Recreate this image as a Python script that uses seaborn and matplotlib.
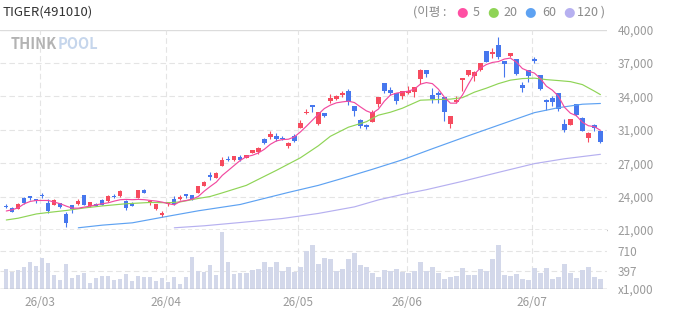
import numpy as np
import pandas as pd
import matplotlib
matplotlib.use("Agg")
import matplotlib.pyplot as plt
import seaborn as sns

# ---------------- data ----------------
title = "TIGER(491010)"
month_labels = ["26/03", "26/04", "26/05", "26/06", "26/07"]
month_pos = [5.6, 26.6, 48.6, 66.8, 87.6]

open_ = [23300, 23110, 23010, 24060, 24180, 23900, 24330, 23550, 23390, 23520,
         22470, 23330, 23490, 24280, 23300, 23490, 23870, 23740, 24230, 24180,
         23740, 23580, 24060, 24750, 23580, 22980, 22440, 23420, 23960, 23900,
         24370, 24280, 24500, 25160, 26210, 25960, 27060, 27700, 27600, 27920,
         27820, 28300, 28430, 29660, 29820, 29880, 29760, 28930, 29880, 30670,
         32070, 32830, 31090, 32100, 33210, 33370, 33780, 34190, 32730, 31400,
         30930, 31240, 32920, 34890, 34250, 33940, 33710, 33970, 34060, 35330,
         36150, 33780, 34000, 33560, 31020, 33140, 35200, 35680, 35610, 36150,
         37990, 37670, 38530, 37040, 37510, 37200, 34730, 36150, 37200, 35680,
         33330, 33520, 33940, 31090, 30960, 32920, 31660, 29760, 30990, 30360]
high = [23420, 23140, 23560, 24090, 24230, 23940, 24470, 23960, 23930, 23560,
        22690, 23380, 23960, 24330, 23660, 23520, 23900, 24310, 24370, 24820,
        23800, 23610, 24800, 24850, 23760, 23470, 22790, 23680, 24180, 24280,
        24420, 24330, 25180, 25610, 26490, 26460, 27920, 27980, 28030, 28110,
        28130, 28580, 28840, 29690, 30360, 30230, 29880, 29310, 30140, 31400,
        32510, 32860, 32190, 32130, 33870, 33750, 34160, 34350, 32760, 31530,
        31090, 32350, 33620, 34920, 34510, 33970, 34190, 34630, 34540, 36220,
        36180, 34470, 34190, 33590, 31810, 33680, 35390, 36180, 36030, 36820,
        38000, 38210, 39320, 37060, 37770, 37230, 35040, 36180, 37360, 35710,
        33370, 33680, 33970, 31500, 31500, 32950, 31690, 30260, 31020, 30390]
low = [23040, 22660, 22950, 23490, 23870, 23580, 24060, 22600, 23360, 23070,
       21270, 22600, 23360, 23330, 23170, 23230, 23330, 23640, 24060, 24120,
       22850, 23230, 24020, 24470, 23390, 22920, 22220, 23300, 23330, 23850,
       24060, 23850, 24470, 25130, 25700, 25890, 27030, 27570, 27560, 27540,
       27790, 28270, 28240, 29120, 29660, 29440, 29500, 28810, 29340, 30640,
       31970, 32190, 30990, 31720, 32990, 33300, 33620, 32860, 31810, 30710,
       30550, 31210, 32670, 34000, 33840, 32920, 33460, 33870, 33620, 34790,
       35520, 33050, 33050, 31340, 30670, 33080, 34190, 35630, 35140, 36100,
       36880, 37260, 37170, 35520, 37420, 35680, 34090, 34980, 36850, 34250,
       32350, 32730, 32290, 30290, 30960, 31850, 30360, 29340, 30390, 29250]
close = [23170, 22690, 23490, 23550, 24020, 23710, 24230, 22790, 23800, 23170,
         21650, 23010, 23740, 23390, 23610, 23300, 23390, 24180, 24140, 24690,
         23070, 23260, 24750, 24500, 23710, 23420, 22570, 23610, 23420, 24120,
         24180, 23900, 25130, 25540, 26020, 26430, 27670, 27600, 27980, 27670,
         28080, 28550, 28810, 29250, 30070, 29600, 29600, 29280, 29440, 31150,
         32190, 32670, 32160, 31810, 33490, 33710, 33940, 33140, 32290, 30860,
         30800, 32160, 33590, 34160, 34000, 33240, 34160, 34160, 34510, 36150,
         35800, 33400, 33750, 32190, 31780, 33300, 35360, 36150, 35990, 36790,
         36910, 37860, 37420, 36690, 37740, 35740, 34470, 35610, 37040, 34350,
         33140, 33140, 32450, 30450, 31500, 31880, 30390, 30230, 30670, 29340]
volume = [426, 383, 410, 458, 537, 473, 600, 521, 331, 252,
          505, 284, 331, 363, 205, 284, 315, 315, 257, 268,
          347, 236, 320, 300, 300, 236, 284, 221, 300, 189,
          300, 616, 394, 379, 489, 331, 1011, 537, 347, 368,
          368, 410, 431, 541, 462, 541, 394, 458, 383, 458,
          710, 805, 505, 600, 584, 394, 431, 589, 679, 489,
          458, 368, 300, 410, 394, 426, 383, 368, 394, 537,
          394, 458, 368, 268, 304, 315, 442, 331, 331, 426,
          394, 584, 805, 331, 315, 347, 268, 252, 442, 363,
          442, 268, 300, 505, 363, 284, 410, 458, 300, 268]

ma5 = [22800, 22920, 23110, 23490, 23710, 23800, 23800, 23800, 23640, 23490,
       23260, 23070, 23070, 23170, 23260, 23390, 23490, 23580, 23740, 23870,
       23900, 23870, 23900, 23870, 23800, 23740, 23640, 23490, 23390, 23710,
       23800, 23930, 24180, 24690, 25130, 25540, 26180, 26650, 27130, 27600,
       27950, 28080, 28300, 28650, 29120, 29440, 29570, 29600, 29820, 30290,
       30830, 31400, 31970, 32510, 32830, 33050, 33140, 33210, 33080, 32670,
       32290, 32070, 32450, 33210, 33780, 33970, 34060, 34160, 34350, 34820,
       34970, 34870, 34350, 33590, 33020, 33020, 33780, 34820, 35770, 36340,
       36680, 36880, 36960, 37200, 37290, 36910, 36300, 36060, 35870, 35350,
       34630, 34250, 33680, 32640, 32070, 31830, 31210, 30880, 30790, 30450]
ma20_idx = [0, 2, 5, 7, 10, 13, 16, 20, 24, 27, 29, 32, 34, 36, 40, 42, 45, 49, 52, 54,
            57, 60, 62, 64, 66, 69, 72, 74, 76, 78, 80, 82, 84, 86, 88, 90, 92, 94, 96, 98, 99]
ma20 = [21950, 22120, 22520, 22660, 22850, 23090, 23280, 23490, 23610, 23580,
        23660, 23990, 24180, 24520, 25230, 25800, 26650, 27840, 28980, 29880,
        30740, 31260, 31880, 32160, 32540, 33300, 33370, 33400, 33540, 34060,
        34440, 34870, 35200, 35350, 35390, 35250, 35160, 35060, 34780, 34160, 33830]
ma60_idx = [12, 16, 21, 27, 32, 39, 42, 47, 52, 56, 61, 66, 71, 77, 82, 88, 92, 96, 99]
ma60 = [21210, 21460, 21680, 22310, 22820, 23420, 23850, 24560, 25230, 25890,
        26750, 27650, 28700, 29930, 30930, 32120, 32590, 32920, 32990]
ma120_idx = [28, 33, 39, 46, 52, 58, 62, 66, 70, 76, 82, 88, 93, 99]
ma120 = [21210, 21400, 21710, 22090, 22570, 23190, 23850, 24370, 24820, 25610,
         26460, 27290, 27750, 28170]

price_tick_labels = ["21,000", "24,000", "27,000", "31,000", "34,000", "37,000", "40,000"]
price_min, price_max = 21000, 40000
vol_tick_vals = [110, 397, 710]
vol_tick_labels = ["x1,000", "397", "710"]
vol_min, vol_max = 110, 1041

legend_items = [("5", "#ff4fa3"), ("20", "#8fd456"), ("60", "#5ea2f2"), ("120", "#b6b0f0")]

# ---------------- style ----------------
sns.set_style("white")
plt.rcParams["font.family"] = ["Noto Sans CJK KR", "DejaVu Sans"]

UP, DOWN = "#f64b5e", "#4677ee"
GRID = "#e4e4e4"
TXT = "#9a9a9a"
VOLC = "#d3d8ea"

W, H = 673, 315
fig = plt.figure(figsize=(W / 100, H / 100), dpi=100)


def rect(l, t, r, b):
    return [l / W, 1 - b / H, (r - l) / W, (b - t) / H]


axp = fig.add_axes(rect(0, 29.5, 607, 230))
axv = fig.add_axes(rect(0, 230, 607, 289))

n = len(close)
idx = np.arange(n)
df = pd.DataFrame({"i": idx, "open": open_, "high": high, "low": low,
                   "close": close, "volume": volume, "ma5": ma5})
up = df["close"] >= df["open"]
cols = np.where(up, UP, DOWN)

XL = (-1.05, 100.1)

# ---- price panel ----
ticks = np.linspace(price_min, price_max, 7)
for t in ticks[1:-1]:
    axp.axhline(t, color=GRID, lw=0.8, ls=(0, (5, 3)), zorder=0)
axp.axhline(price_max, color="#dcdcdc", lw=1.0, zorder=0)
axp.axhline(price_min, color="#8f8f8f", lw=1.0, ls=(0, (3, 2)), zorder=5, clip_on=False)
for m in month_pos:
    axp.axvline(m, color=GRID, lw=0.8, ls=(0, (5, 3)), zorder=0)

axp.vlines(df["i"], df["low"], df["high"], colors=cols, lw=0.8, zorder=2)
body_h = np.maximum((df["close"] - df["open"]).abs(), 70)
body_b = np.minimum(df["open"], df["close"])
axp.bar(df["i"], body_h, bottom=body_b, width=0.72, color=cols, linewidth=0, zorder=3)

sns.lineplot(x=ma120_idx, y=ma120, ax=axp, color="#b6b0f0", lw=0.85, zorder=4)
sns.lineplot(x=ma60_idx, y=ma60, ax=axp, color="#5ea2f2", lw=0.85, zorder=4)
sns.lineplot(x=ma20_idx, y=ma20, ax=axp, color="#8fd456", lw=0.85, zorder=4)
sns.lineplot(data=df, x="i", y="ma5", ax=axp, color="#f24aa0", lw=0.85, zorder=4)

axp.set_xlim(*XL)
axp.set_ylim(price_min, price_max)
axp.yaxis.tick_right()
axp.set_yticks(ticks, price_tick_labels)
axp.tick_params(axis="y", length=0, pad=7.5, labelsize=8.5, labelcolor=TXT)
axp.set_xticks([])
axp.set_xlabel("")
axp.set_ylabel("")
for s in axp.spines.values():
    s.set_visible(False)

# ---- volume panel ----
for t in vol_tick_vals[1:]:
    axv.axhline(t, color=GRID, lw=0.8, ls=(0, (5, 3)), zorder=0)
for m in month_pos:
    axv.axvline(m, color=GRID, lw=0.8, ls=(0, (5, 3)), zorder=0)
sns.barplot(data=df, x="i", y="volume", native_scale=True, color=VOLC,
            saturation=1, width=0.72, errorbar=None, ax=axv, zorder=2, linewidth=0)
axv.axhline(vol_min, color="#a8a8a8", lw=1.0, zorder=5)
axv.set_xlim(*XL)
axv.set_ylim(vol_min, vol_max)
axv.yaxis.tick_right()
axv.set_yticks(vol_tick_vals, vol_tick_labels)
axv.tick_params(axis="y", length=0, pad=7.5, labelsize=8.5, labelcolor=TXT)
axv.set_xticks(month_pos, month_labels)
axv.tick_params(axis="x", length=0, pad=5, labelsize=8.5, labelcolor=TXT)
axv.set_xlabel("")
axv.set_ylabel("")
for s in axv.spines.values():
    s.set_visible(False)

# ---- header texts ----
def ftext(x, y, s, **kw):
    fig.text(x / W, 1 - y / H, s, va="center", **kw)


ftext(3, 12, title, color="#333333", fontsize=9.5)
ftext(11, 44, "THINK", color="#b3b3b3", fontsize=10.5, fontweight="bold")
ftext(57.5, 44, "POOL", color="#c6d6ec", fontsize=10.5, fontweight="bold")

ftext(413, 12, "(이평 :", color="#8a8a8a", fontsize=9)
xs_dot = [462, 493, 530, 569]
xs_lab = [473, 503, 542, 577]
for (lab, c), xd, xl in zip(legend_items, xs_dot, xs_lab):
    ftext(xd, 12, "●", color=c, fontsize=9.5, ha="center", family="DejaVu Sans")
    ftext(xl, 12, lab + (" )" if lab == "120" else ""), color="#8a8a8a", fontsize=9)

fig.savefig("out.png", dpi=100)
